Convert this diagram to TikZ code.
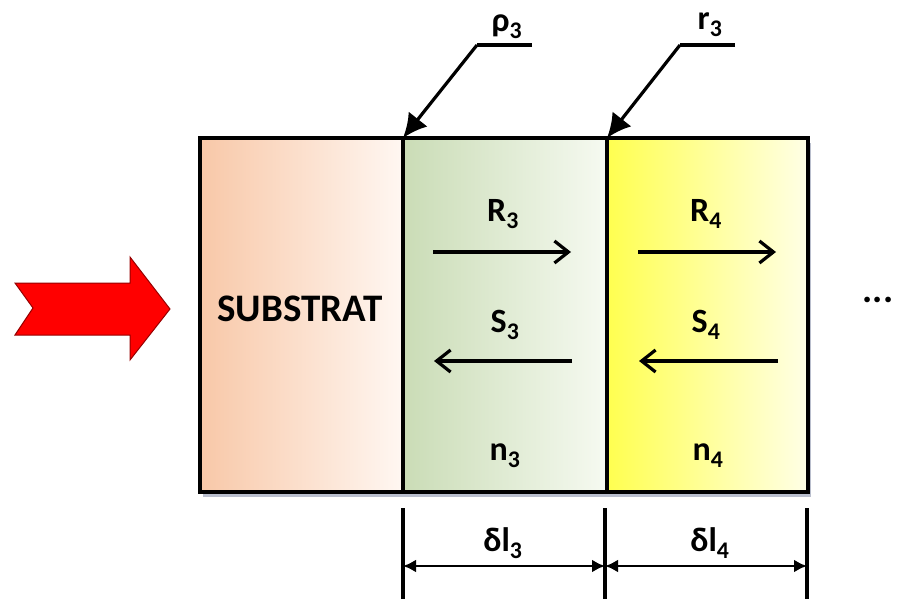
\documentclass[tikz,border=0pt]{standalone}
\usepackage{fontspec}
\setmainfont{Carlito}
\usetikzlibrary{arrows.meta}
\definecolor{subL}{RGB}{248,200,168}
\definecolor{subR}{RGB}{255,247,242}
\definecolor{grnL}{RGB}{202,220,182}
\definecolor{grnR}{RGB}{246,250,241}
\definecolor{yelL}{RGB}{255,255,80}
\definecolor{yelR}{RGB}{255,255,230}
\definecolor{arrRed}{RGB}{255,0,0}
\definecolor{arrEdge}{RGB}{150,0,0}
\definecolor{shadowC}{RGB}{185,190,205}
\tikzset{
  lbl/.style={font=\bfseries\fontsize{34}{38}\selectfont, inner sep=0pt},
  subtxt/.style={font=\bfseries\fontsize{39}{42}\selectfont, inner sep=0pt},
  border/.style={line width=3.8pt, draw=black},
  flux/.style={line width=3.2pt, -{Straight Barb[length=14pt,width=22pt,line width=3.2pt]}},
  leader/.style={line width=3.2pt, -{Latex[length=24pt,width=24pt]}},
  dimline/.style={line width=3.2pt},
  dimarrow/.style={line width=2.8pt, {Latex[length=13pt,width=13pt]}-{Latex[length=13pt,width=13pt]}}
}
\begin{document}
\begin{tikzpicture}[x=1pt,y=-1pt]
\useasboundingbox (0,0) rectangle (898,599);
% shadow
\fill[shadowC] (203,143) rectangle (811,497);
% layers
\shade[left color=subL, right color=subR] (200,138) rectangle (403,492);
\shade[left color=grnL, right color=grnR] (403,138) rectangle (607,492);
\shade[left color=yelL, right color=yelR] (607,138) rectangle (808,492);
\coordinate (tl) at (200,138);
\coordinate (br) at (808,492);
\coordinate (d1t) at (403,138);
\coordinate (d1b) at (403,492);
\coordinate (d2t) at (607,138);
\coordinate (d2b) at (607,492);
\draw[border] (tl) rectangle (br);
\draw[border] (d1t) -- (d1b);
\draw[border] (d2t) -- (d2b);
% texts
\node[subtxt] (sub) at (300,309) {SUBSTRAT};
\node[lbl] (R3) at (503,214) {R\textsubscript{3}};
\node[lbl] (S3) at (505,325) {S\textsubscript{3}};
\node[lbl] (n3) at (505,456) {n\textsubscript{3}};
\node[lbl] (R4) at (706,214) {R\textsubscript{4}};
\node[lbl] (S4) at (706,325) {S\textsubscript{4}};
\node[lbl] (n4) at (708,456) {n\textsubscript{4}};
\node[lbl, font=\bfseries\fontsize{38}{40}\selectfont] (dots) at (878,300) {...};
% flux arrows
\coordinate (r3a) at (433,252); \coordinate (r3b) at (571,252);
\coordinate (s3a) at (572,361); \coordinate (s3b) at (434,361);
\coordinate (r4a) at (638,252); \coordinate (r4b) at (776,252);
\coordinate (s4a) at (778,361); \coordinate (s4b) at (639,361);
\draw[flux] (r3a) -- (r3b);
\draw[flux] (s3a) -- (s3b);
\draw[flux] (r4a) -- (r4b);
\draw[flux] (s4a) -- (s4b);
% top leaders
\node[lbl] (rho) at (507,27) {ρ\textsubscript{3}};
\node[lbl] (r3) at (710,25) {r\textsubscript{3}};
\coordinate (rhoE) at (532,45); \coordinate (rhoK) at (477,45);
\coordinate (r3E) at (735,45); \coordinate (r3K) at (680,45);
\draw[line width=3.2pt] (rhoE) -- (rhoK);
\draw[leader] (rhoK) -- (d1t);
\draw[line width=3.2pt] (r3E) -- (r3K);
\draw[leader] (r3K) -- (d2t);
% dimension lines
\coordinate (v1t) at (403,508); \coordinate (v1b) at (403,599);
\coordinate (v2t) at (605,508); \coordinate (v2b) at (605,599);
\coordinate (v3t) at (807,508); \coordinate (v3b) at (807,599);
\draw[dimline] (v1t) -- (v1b);
\draw[dimline] (v2t) -- (v2b);
\draw[dimline] (v3t) -- (v3b);
\coordinate (h1) at (403,566); \coordinate (h2) at (605,566); \coordinate (h3) at (807,566);
\draw[dimarrow] (h1) -- (h2);
\draw[dimarrow] (h2) -- (h3);
\node[lbl] (dl3) at (503,543) {δl\textsubscript{3}};
\node[lbl] (dl4) at (710,543) {δl\textsubscript{4}};
% red arrow
\draw[fill=arrRed, draw=arrEdge, line width=1pt]
  (15,283) -- (130,283) -- (130,257) -- (170,309) -- (130,360) -- (130,335) -- (15,335) -- (33,308) -- cycle;
\end{tikzpicture}
\end{document}
